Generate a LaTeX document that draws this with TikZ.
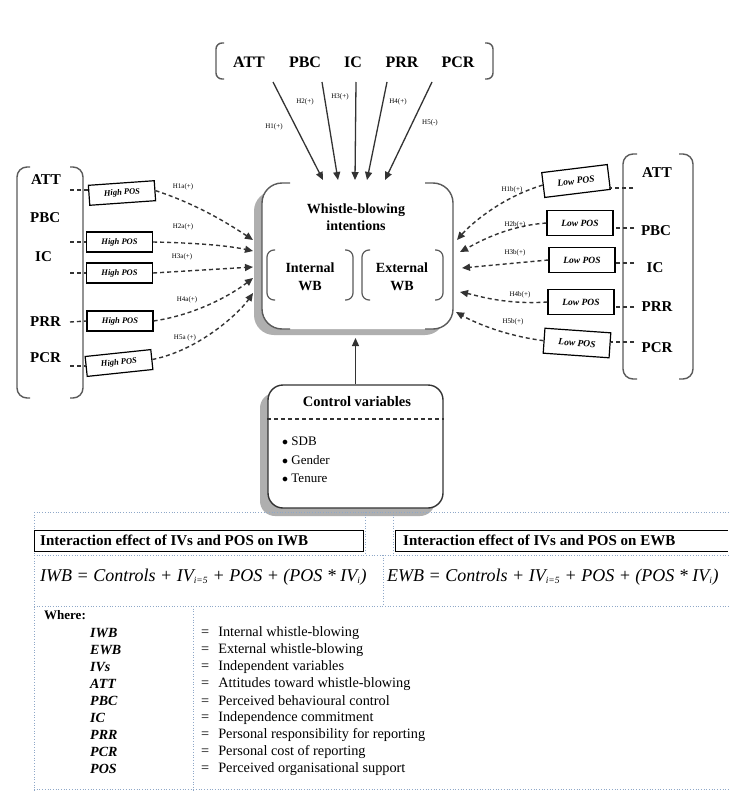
\documentclass[tikz,border=0pt]{standalone}
\usepackage{fontspec}
\setmainfont{Liberation Serif}
\usetikzlibrary{arrows.meta}
\definecolor{ln}{HTML}{333333}
\definecolor{br}{HTML}{5A5A5A}
\definecolor{tb}{HTML}{8FA8C8}
\definecolor{shd}{HTML}{AFAFAF}
\tikzset{
  varlbl/.style={font=\bfseries\fontsize{15}{16}\selectfont, inner sep=0pt},
  toplbl/.style={font=\bfseries\fontsize{16}{18}\selectfont, inner sep=0pt},
  hlbl/.style={font=\fontsize{7}{8}\selectfont, inner sep=0pt},
  hibox/.style={draw=black, line width=1.2pt, fill=white, minimum width=66pt, minimum height=20pt, inner sep=1pt, font=\bfseries\itshape\fontsize{8.5}{10}\selectfont},
  lobox/.style={draw=black, line width=1.2pt, fill=white, minimum width=66pt, minimum height=25pt, inner sep=1pt, font=\bfseries\itshape\fontsize{9.5}{11}\selectfont},
  sarrow/.style={draw=ln, line width=1.3pt, -{Triangle[length=8pt,width=7pt]}},
  darrow/.style={draw=ln, line width=1.4pt, dash pattern=on 4pt off 3pt, -{Triangle[length=8pt,width=7pt]}},
  dline/.style={draw=ln, line width=1.4pt, dash pattern=on 4pt off 3pt},
  paren/.style={draw=br, line width=1.4pt, rounded corners=10pt},
  sparen/.style={draw=br, line width=1.2pt, rounded corners=7pt},
  tbline/.style={draw=tb, line width=0.7pt, dotted},
  cell/.style={draw=black, line width=0.8pt},
  ttxt/.style={font=\bfseries\fontsize{15}{17}\selectfont, anchor=west, inner sep=0pt},
  eqtxt/.style={font=\itshape\fontsize{18}{21}\selectfont, anchor=west, inner sep=0pt},
  wlab/.style={font=\bfseries\itshape\fontsize{14}{16}\selectfont, anchor=west, inner sep=0pt},
  wtxt/.style={font=\fontsize{14.3}{16}\selectfont, anchor=west, inner sep=0pt},
}
\begin{document}
\begin{tikzpicture}[x=1pt,y=-1pt]
\useasboundingbox[fill=white] (0,0) rectangle (728,792);

% ---------- top group ----------
\draw[paren,rounded corners=6pt] (224,43) -- (216,43) -- (216,79) -- (224,79);
\draw[paren,rounded corners=6pt] (485,43) -- (493,43) -- (493,79) -- (485,79);
\node[toplbl] (tATT) at (249,62) {ATT};
\node[toplbl] (tPBC) at (305,62) {PBC};
\node[toplbl] (tIC)  at (353,62) {IC};
\node[toplbl] (tPRR) at (402,62) {PRR};
\node[toplbl] (tPCR) at (458,62) {PCR};

% ---------- central box ----------
\fill[shd, rounded corners=20pt] (254,191) rectangle (445,335);
\fill[white, rounded corners=20pt] (262,183) rectangle (453,329);
\node[minimum width=191pt, minimum height=146pt, inner sep=0pt] (wb) at (357.5,256) {};
\draw[paren,rounded corners=20pt] (290,183) -- (262,183) -- (262,329) -- (290,329);
\draw[paren,rounded corners=20pt] (425,183) -- (453,183) -- (453,329) -- (425,329);
\node[font=\bfseries\fontsize{14}{16.5}\selectfont, align=center, inner sep=0pt] (wbt) at (356,217) {Whistle-blowing\\intentions};
\draw[sparen] (275,250) -- (267,250) -- (267,300) -- (275,300);
\draw[sparen] (345,250) -- (353,250) -- (353,300) -- (345,300);
\draw[sparen] (370,250) -- (362,250) -- (362,300) -- (370,300);
\draw[sparen] (435,250) -- (443,250) -- (443,300) -- (435,300);
\node[font=\bfseries\fontsize{14}{18}\selectfont, align=center, inner sep=0pt] (iwb) at (310,277) {Internal\\WB};
\node[font=\bfseries\fontsize{14}{18}\selectfont, align=center, inner sep=0pt] (ewb) at (402,277) {External\\WB};

% top arrows
\coordinate (s1) at (273,82);  \coordinate (e1) at (323,180);
\coordinate (s2) at (322,82);  \coordinate (e2) at (338,180);
\coordinate (s3) at (356,82);  \coordinate (e3) at (355,180);
\coordinate (s4) at (387,82);  \coordinate (e4) at (367,180);
\coordinate (s5) at (432,82);  \coordinate (e5) at (385,180);
\draw[sarrow] (s1) -- (e1);
\draw[sarrow] (s2) -- (e2);
\draw[sarrow] (s3) -- (e3);
\draw[sarrow] (s4) -- (e4);
\draw[sarrow] (s5) -- (e5);
\node[hlbl] (h1) at (274,127) {H1(+)};
\node[hlbl] (h2) at (305,102) {H2(+)};
\node[hlbl] (h3) at (340,97) {H3(+)};
\node[hlbl] (h4) at (398,102) {H4(+)};
\node[hlbl] (h5) at (430,123) {H5(-)};

% ---------- left group ----------
\draw[paren] (30,167) -- (17,167) -- (17,398) -- (30,398);
\draw[paren] (70,167) -- (83,167) -- (83,398) -- (70,398);
\node[varlbl, anchor=west] (lATT) at (31,180) {ATT};
\node[varlbl, anchor=west] (lPBC) at (30,218) {PBC};
\node[varlbl, anchor=west] (lIC)  at (35,257) {IC};
\node[varlbl, anchor=west] (lPRR) at (30,322) {PRR};
\node[varlbl, anchor=west] (lPCR) at (30,358) {PCR};

\node[hibox, rotate=4] (L1) at (122,193) {High POS};
\node[hibox] (L2) at (119.5,242) {High POS};
\node[hibox] (L3) at (119.5,273) {High POS};
\node[hibox] (L4) at (120,321) {High POS};
\node[hibox, rotate=6] (L5) at (119,363) {High POS};

\coordinate (ld1) at (70,190);
\coordinate (ld2) at (70,242);
\coordinate (ld3) at (70,273);
\coordinate (ld4) at (70,322);
\coordinate (ld5) at (70,366);
\draw[dline] (ld1) -- (ld1 -| L1.west);
\draw[dline] (ld2) -- (L2.west);
\draw[dline] (ld3) -- (L3.west);
\draw[dline] (ld4) -- (L4.west);
\draw[dline] (ld5) -- (ld5 -| L5.west);

\coordinate (cl1) at (253,240);
\coordinate (cl2) at (253,251);
\coordinate (cl3) at (253,267);
\coordinate (cl4) at (253,278);
\coordinate (cl5) at (253,293);
\draw[darrow] (L1.east) .. controls (200,205) and (235,228) .. (cl1);
\draw[darrow] (L2.east) .. controls (200,243) and (230,246) .. (cl2);
\draw[darrow] (L3.east) -- (cl3);
\draw[darrow] (L4.east) .. controls (200,314) and (235,292) .. (cl4);
\draw[darrow] (L5.east) .. controls (200,350) and (240,312) .. (cl5);
\node[hlbl] (h1a) at (183,187) {H1a(+)};
\node[hlbl] (h2a) at (183,227) {H2a(+)};
\node[hlbl] (h3a) at (182,257) {H3a(+)};
\node[hlbl] (h4a) at (187,300) {H4a(+)};
\node[hlbl] (h5a) at (185,338) {H5a (+)};

% ---------- right group ----------
\draw[paren] (637,154) -- (623,154) -- (623,379) -- (637,379);
\draw[paren] (679,154) -- (693,154) -- (693,379) -- (679,379);
\node[varlbl] (rATT) at (657,173) {ATT};
\node[varlbl] (rPBC) at (656,231) {PBC};
\node[varlbl] (rIC)  at (655,268) {IC};
\node[varlbl] (rPRR) at (657,307) {PRR};
\node[varlbl] (rPCR) at (657,348) {PCR};

\node[lobox, rotate=7] (R1) at (576,181) {Low POS};
\node[lobox] (R2) at (580,223) {Low POS};
\node[lobox] (R3) at (582,260) {Low POS};
\node[lobox] (R4) at (581,302) {Low POS};
\node[lobox, rotate=-4] (R5) at (577,343) {Low POS};

\coordinate (rd1) at (633,188);
\coordinate (rd2) at (634,228);
\coordinate (rd3) at (634,263);
\coordinate (rd4) at (634,307);
\coordinate (rd5) at (634,342);
\draw[dline] (rd1) -- (rd1 -| R1.east);
\draw[dline] (rd2) -- (rd2 -| R2.east);
\draw[dline] (rd3) -- (rd3 -| R3.east);
\draw[dline] (rd4) -- (rd4 -| R4.east);
\draw[dline] (rd5) -- (rd5 -| R5.east);

\coordinate (cr1) at (457,240);
\coordinate (cr2) at (460,252);
\coordinate (cr3) at (462,268);
\coordinate (cr4) at (460,292);
\coordinate (cr5) at (456,312);
\draw[darrow] (R1.west) .. controls (500,198) and (470,225) .. (cr1);
\draw[darrow] (R2.west) .. controls (505,226) and (475,244) .. (cr2);
\draw[darrow] (R3.west) -- (cr3);
\draw[darrow] (R4.west) .. controls (505,305) and (475,295) .. (cr4);
\draw[darrow] (R5.west) .. controls (500,335) and (470,320) .. (cr5);
\node[hlbl] (h1b) at (512,190) {H1b(+)};
\node[hlbl] (h2b) at (515,225) {H2b(+)};
\node[hlbl] (h3b) at (515,253) {H3b(+)};
\node[hlbl] (h4b) at (520,295) {H4b(+)};
\node[hlbl] (h5b) at (513,322) {H5b(+)};

% ---------- control variables ----------
\fill[shd, rounded corners=15pt] (260,393) rectangle (435,516);
\node[draw=ln, line width=1.4pt, fill=white, rounded corners=15pt, minimum width=175pt, minimum height=123pt, inner sep=0pt] (ctrl) at (355.5,446.5) {};
\node[font=\bfseries\fontsize{14.5}{16}\selectfont, inner sep=0pt] (ctrlt) at (357,402) {Control variables};
\draw[ln, line width=1.2pt, dash pattern=on 4pt off 3pt] (ctrl.west |- 0,419) -- (ctrl.east |- 0,419);
\node[font=\fontsize{13}{15}\selectfont, anchor=west, inner sep=0pt] (cv1) at (282,441) {$\bullet$ SDB};
\node[font=\fontsize{13}{15}\selectfont, anchor=west, inner sep=0pt] (cv2) at (282,460) {$\bullet$ Gender};
\node[font=\fontsize{13}{15}\selectfont, anchor=west, inner sep=0pt] (cv3) at (282,478) {$\bullet$ Tenure};
\coordinate (wbbot) at (355.5,338);
\draw[sarrow] (ctrl.north) -- (wbbot);

% ---------- table ----------
\draw[tbline] (34,512) -- (728,512);
\draw[tbline] (34,512) -- (34,792);
\draw[tbline] (365,512) -- (365,555);
\draw[tbline] (393,512) -- (393,555);
\draw[tbline] (34,555) -- (728,555);
\draw[tbline] (383,555) -- (383,606);
\draw[tbline] (34,606) -- (728,606);
\draw[tbline] (193,606) -- (193,792);
\draw[tbline] (34,789) -- (728,789);
\draw[cell] (34,530) rectangle (363,551);
\draw[cell] (395,551) -- (395,530) -- (728,530);
\draw[cell] (395,551) -- (728,551);
\node[ttxt] (ti) at (40,540.5) {Interaction effect of IVs and POS on IWB};
\node[ttxt] (te) at (403,540.5) {Interaction effect of IVs and POS on EWB};
\node[eqtxt] (eqi) at (40,577) {IWB = Controls + IV\textsubscript{\fontsize{9.5}{10}\selectfont i=5} + POS + (POS * IV\textsubscript{\fontsize{9.5}{10}\selectfont i})};
\node[eqtxt] (eqe) at (387,577) {EWB = Controls + IV\textsubscript{\fontsize{9.5}{10}\selectfont i=5} + POS + (POS * IV\textsubscript{\fontsize{9.5}{10}\selectfont i})};

\node[font=\bfseries\fontsize{13}{15}\selectfont, anchor=west, inner sep=0pt] (where) at (44,615) {Where:};
\foreach \lab/\txt [count=\k from 0] in {IWB/Internal whistle-blowing, EWB/External whistle-blowing, IVs/Independent variables, ATT/Attitudes toward whistle-blowing, PBC/Perceived behavioural control, IC/Independence commitment, PRR/Personal responsibility for reporting, PCR/Personal cost of reporting, POS/Perceived organisational support}{
  \node[wlab] (wl\k) at (90,633+17*\k) {\lab};
  \node[wtxt] (wt\k) at (201,633+17*\k) {=\hspace{9pt}\txt};
}
\end{tikzpicture}
\end{document}
